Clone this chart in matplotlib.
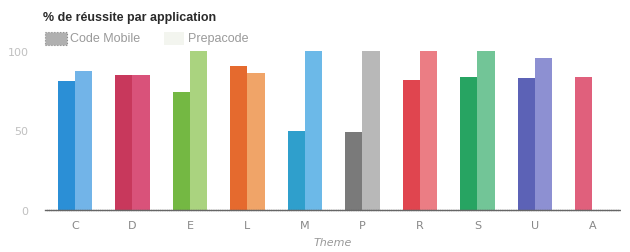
import matplotlib
matplotlib.use("Agg")
import matplotlib.pyplot as plt
from matplotlib.patches import Rectangle
import numpy as np

themes = ["C", "D", "E", "L", "M", "P", "R", "S", "U", "A"]
code_mobile = [81, 85, 74.5, 90.5, 50, 49, 82, 83.5, 83, 83.5]
prepacode = [87.5, 85, 100, 86, 100, 100, 100, 100, 95.5, None]
yticks = [0, 50, 100]

mobile_colors = ["#2b8fd6", "#c8385c", "#74b843", "#e56a2e", "#2f9fcc",
                 "#7a7a7a", "#e0454f", "#27a462", "#5c62b6", "#e0607c"]
prepa_colors = ["#72b4e8", "#d9527a", "#aad37f", "#f0a468", "#6cb9e8",
                "#b8b8b8", "#eb7d84", "#72c597", "#8d90d2", "#eaa0b0"]

W, H = 630, 253
fig = plt.figure(figsize=(W/100, H/100), dpi=100)
ax = fig.add_axes([45/W, 42/H, 575/W, 159/H])

x = np.arange(len(themes))
w = 0.3
for i in range(len(themes)):
    ax.bar(x[i] - w/2, code_mobile[i], width=w, color=mobile_colors[i], linewidth=0)
    if prepacode[i] is not None:
        ax.bar(x[i] + w/2, prepacode[i], width=w, color=prepa_colors[i], linewidth=0)

ax.set_xlim(-0.52, 9.48)
ax.set_ylim(0, 100)
for s in ["top", "right", "left"]:
    ax.spines[s].set_visible(False)
ax.spines["bottom"].set_color("#666666")
ax.spines["bottom"].set_linewidth(1.0)
ax.spines["bottom"].set_linestyle((0, (1, 0.6)))

ax.set_yticks(yticks)
ax.set_yticklabels([str(v) for v in yticks], color="#c0c0c0", fontsize=8)
ax.tick_params(axis="y", length=0, pad=12)
ax.set_xticks(x)
ax.set_xticklabels(themes, color="#888888", fontsize=8)
ax.tick_params(axis="x", length=0, pad=7)
ax.set_xlabel("Theme", color="#999999", fontsize=8, style="italic", labelpad=5)

fig.text(43/W, 1 - 18/H, "% de réussite par application", fontsize=9,
         fontweight="bold", color="#2a2a2a", va="center", ha="left",
         family=["Liberation Sans Narrow", "Liberation Sans", "DejaVu Sans"])

# legend drawn manually
fig.patches.append(Rectangle((45/W, 1 - 46/H), 22/W, 13/H, transform=fig.transFigure,
                             facecolor="#b0b0b0", edgecolor="#8a8a8a",
                             linestyle=":", linewidth=0.8))
fig.text(70/W, 1 - 39/H, "Code Mobile", fontsize=9, color="#9a9a9a",
         va="center", ha="left", family=["Liberation Sans", "DejaVu Sans"])
fig.patches.append(Rectangle((164/W, 1 - 46/H), 20/W, 13/H, transform=fig.transFigure,
                             facecolor="#f3f5ef", edgecolor="none"))
fig.text(188/W, 1 - 39/H, "Prepacode", fontsize=9, color="#9a9a9a",
         va="center", ha="left", family=["Liberation Sans", "DejaVu Sans"])

fig.savefig("out.png", dpi=100, facecolor="white")
